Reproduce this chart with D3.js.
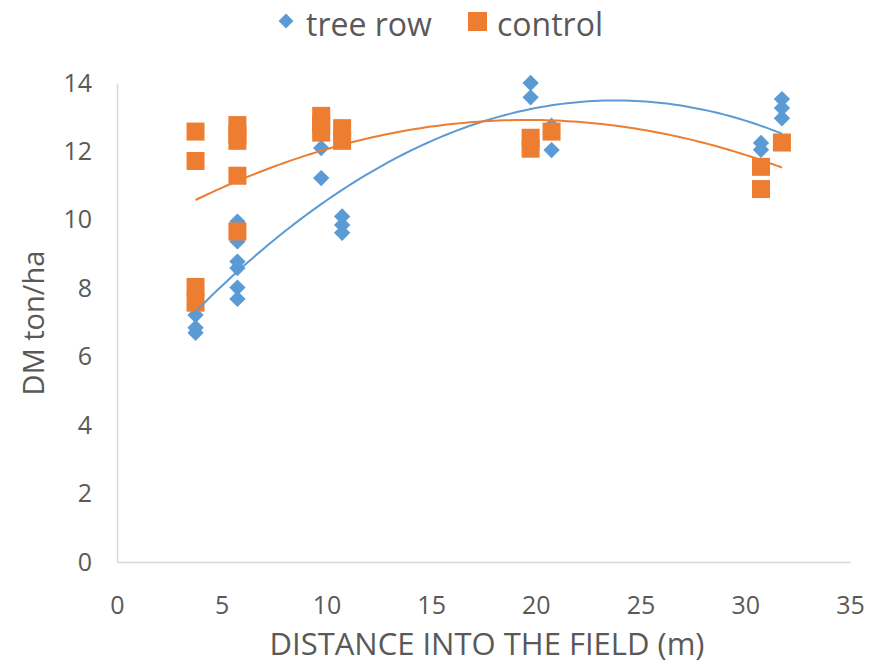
<!DOCTYPE html>
<html><head><meta charset="utf-8">
<script src="https://cdn.jsdelivr.net/npm/d3@7"></script>
<style>body{margin:0;background:#fff}text{font-family:"Open Sans",sans-serif}</style>
</head><body><svg id="c" width="879" height="667"></svg>
<script>
const treeX = [3.75,3.75,3.75,3.75, 5.75,5.75,5.75,5.75,5.75,5.75, 9.75,9.75, 10.75,10.75,10.75, 19.75,19.75, 20.75,20.75, 30.75,30.75, 31.75,31.75,31.75];
const treeY = [7.6,7.22,6.85,6.7, 9.95,9.37,8.78,8.59,8.02,7.69, 12.1,11.22, 10.1,9.85,9.62, 14.0,13.58, 12.75,12.04, 12.25,12.05, 13.53,13.27,12.97];
const ctrlX = [3.75,3.75,3.75,3.75, 5.75,5.75,5.75,5.75,5.75, 9.75,9.75,9.75, 10.75,10.75, 19.75,19.75, 20.75, 30.75,30.75, 31.75];
const ctrlY = [12.58,11.72,8.04,7.58, 12.77,12.5,12.31,11.29,9.66, 13.04,12.8,12.55, 12.68,12.31, 12.4,12.08, 12.58, 11.55,10.9, 12.26];
// polynomial (order 2) trendline coefficients [c0, c1, c2]
const treeTrend = [4.795, 0.73066, -0.01535];
const ctrlTrend = [9.339, 0.36616, -0.00936];
const trendRange = [3.75, 31.75];
const xTicks = [0,5,10,15,20,25,30,35];
const yTicks = [0,2,4,6,8,10,12,14];
const seriesNames = ["tree row","control"];
const colors = ["#5B9BD5","#ED7D31"];

const svg = d3.select("#c");
const x = d3.scaleLinear().domain([0,35]).range([117,850]);
const y = d3.scaleLinear().domain([0,14]).range([562,83]);
const grey = "#595959";

// axes
const xa = svg.append("g").attr("transform","translate(0,562)").call(d3.axisBottom(x).tickValues(xTicks).tickSize(0).tickPadding(34));
const ya = svg.append("g").attr("transform","translate(117,0)").call(d3.axisLeft(y).tickValues(yTicks).tickSize(0).tickPadding(25));
[xa,ya].forEach(a=>{a.select(".domain").attr("stroke","#d9d9d9").attr("stroke-width",1.5);
  a.selectAll("text").attr("fill",grey).attr("font-size",25).attr("font-family","Open Sans");});

// markers
const tree = treeX.map((v,i)=>[v,treeY[i]]);
const ctrl = ctrlX.map((v,i)=>[v,ctrlY[i]]);
const diamond = d3.symbol().type(d3.symbolDiamond2).size(170);
svg.append("g").selectAll("path").data(tree).join("path")
  .attr("d",diamond).attr("transform",d=>`translate(${x(d[0])},${y(d[1])})`)
  .attr("fill",colors[0]);
svg.append("g").selectAll("rect").data(ctrl).join("rect")
  .attr("x",d=>x(d[0])-9).attr("y",d=>y(d[1])-9).attr("width",18).attr("height",18)
  .attr("fill",colors[1]);

// trendlines
[[treeTrend,colors[0]],[ctrlTrend,colors[1]]].forEach(([c,col])=>{
  const pts = d3.range(trendRange[0],trendRange[1]+0.01,0.25).map(t=>[t,c[0]+c[1]*t+c[2]*t*t]);
  svg.append("path").datum(pts).attr("fill","none").attr("stroke",col).attr("stroke-width",2)
    .attr("d",d3.line().x(d=>x(d[0])).y(d=>y(d[1])));
});

// legend
const lg = svg.append("g");
lg.append("path").attr("d",d3.symbol().type(d3.symbolDiamond2).size(140)).attr("transform","translate(286,21)").attr("fill",colors[0]);
lg.append("text").attr("x",306).attr("y",36).attr("font-size",32).attr("fill",grey).text(seriesNames[0]);
lg.append("rect").attr("x",468).attr("y",12).attr("width",19).attr("height",19).attr("fill",colors[1]);
lg.append("text").attr("x",497).attr("y",36).attr("font-size",32).attr("fill",grey).text(seriesNames[1]);

// axis titles
svg.append("text").attr("x",487).attr("y",655).attr("text-anchor","middle").attr("font-size",31).attr("fill",grey).text("DISTANCE INTO THE FIELD (m)");
svg.append("text").attr("transform","translate(44,323) rotate(-90)").attr("text-anchor","middle").attr("font-size",29).attr("fill",grey).text("DM ton/ha");
</script></body></html>
